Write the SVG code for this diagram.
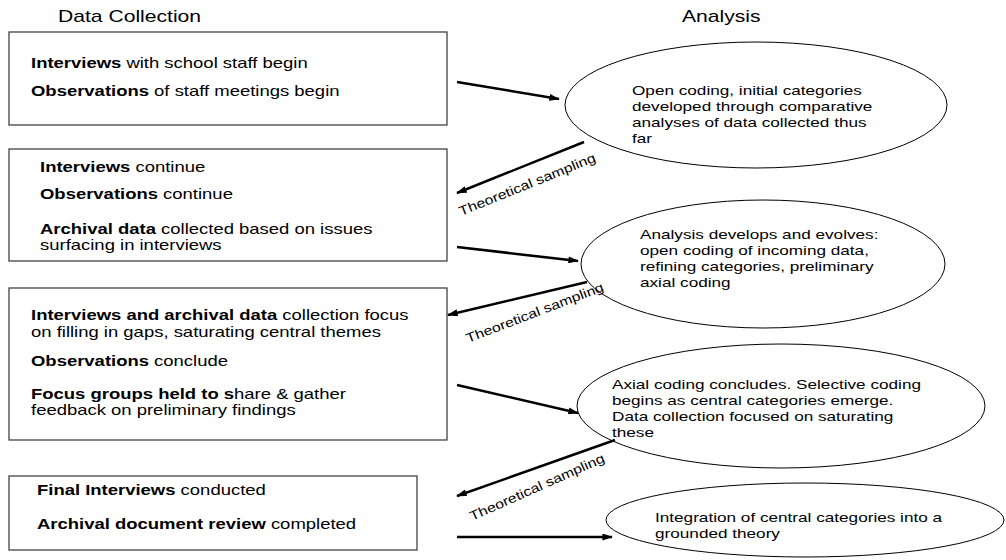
<svg xmlns="http://www.w3.org/2000/svg" width="1006" height="560" viewBox="0 0 1006 560">
<style>
text{font-family:"Liberation Sans",Arial,sans-serif;fill:#000}
.title{font-size:16px}
.bt{font-size:14px}
.et{font-size:13px}
.ts{font-size:13px}
.box{fill:#fff;stroke:#333;stroke-width:1.2}
.ell{fill:#fff;stroke:#000;stroke-width:1}
.arr{stroke:#000;stroke-width:2.5;fill:none;marker-end:url(#ah)}
.b{font-weight:bold}
</style>
<defs>
<marker id="ah" viewBox="0 0 12 8" refX="11" refY="4" markerWidth="11" markerHeight="7" orient="auto" markerUnits="userSpaceOnUse">
<path d="M0,0 L12,4 L0,8 z" fill="#000"/>
</marker>
</defs>
<rect width="1006" height="560" fill="#fff"/>
<text class="title" transform="translate(58 22) scale(1.32 1)">Data Collection</text>
<text class="title" transform="translate(682 22) scale(1.32 1)">Analysis</text>

<g id="box1">
<rect class="box" x="9" y="32" width="438" height="93"/>
<text class="bt" transform="translate(31 68) scale(1.32 1)"><tspan class="b">Interviews</tspan> with school staff begin</text>
<text class="bt" transform="translate(31 96) scale(1.32 1)"><tspan class="b">Observations</tspan> of staff meetings begin</text>
</g>
<g id="box2">
<rect class="box" x="9" y="149" width="438" height="112"/>
<text class="bt" transform="translate(40 172) scale(1.32 1)"><tspan class="b">Interviews</tspan> continue</text>
<text class="bt" transform="translate(40 199) scale(1.32 1)"><tspan class="b">Observations</tspan> continue</text>
<text class="bt" transform="translate(40 234) scale(1.32 1)"><tspan class="b">Archival data</tspan> collected based on issues</text>
<text class="bt" transform="translate(40 250) scale(1.32 1)">surfacing in interviews</text>
</g>
<g id="box3">
<rect class="box" x="9" y="288" width="438" height="152"/>
<text class="bt" transform="translate(31 320) scale(1.32 1)"><tspan class="b">Interviews and archival data</tspan> collection focus</text>
<text class="bt" transform="translate(31 337) scale(1.32 1)">on filling in gaps, saturating central themes</text>
<text class="bt" transform="translate(31 366) scale(1.32 1)"><tspan class="b">Observations</tspan> conclude</text>
<text class="bt" transform="translate(31 399) scale(1.32 1)"><tspan class="b">Focus groups held to s</tspan>hare &amp; gather</text>
<text class="bt" transform="translate(31 415) scale(1.32 1)">feedback on preliminary findings</text>
</g>
<g id="box4">
<rect class="box" x="9" y="476" width="408" height="74"/>
<text class="bt" transform="translate(37 495) scale(1.32 1)"><tspan class="b">Final Interviews</tspan> conducted</text>
<text class="bt" transform="translate(37 529) scale(1.32 1)"><tspan class="b">Archival document review</tspan> completed</text>
</g>

<g id="ell1">
<ellipse class="ell" cx="756" cy="105" rx="191" ry="63"/>
<text class="et" transform="translate(632 95) scale(1.32 1)">Open coding, initial categories</text>
<text class="et" transform="translate(632 111) scale(1.32 1)">developed through comparative</text>
<text class="et" transform="translate(632 127) scale(1.32 1)">analyses of data collected thus</text>
<text class="et" transform="translate(632 143) scale(1.32 1)">far</text>
</g>
<g id="ell2">
<ellipse class="ell" cx="763" cy="264" rx="182" ry="64"/>
<text class="et" transform="translate(640 239) scale(1.32 1)">Analysis develops and evolves:</text>
<text class="et" transform="translate(640 255) scale(1.32 1)">open coding of incoming data,</text>
<text class="et" transform="translate(640 271) scale(1.32 1)">refining categories, preliminary</text>
<text class="et" transform="translate(640 287) scale(1.32 1)">axial coding</text>
</g>
<g id="ell3">
<ellipse class="ell" cx="781" cy="406" rx="204" ry="62"/>
<text class="et" transform="translate(612 389) scale(1.32 1)">Axial coding concludes. Selective coding</text>
<text class="et" transform="translate(612 405) scale(1.32 1)">begins as central categories emerge.</text>
<text class="et" transform="translate(612 421) scale(1.32 1)">Data collection focused on saturating</text>
<text class="et" transform="translate(612 437) scale(1.32 1)">these</text>
</g>
<g id="ell4">
<ellipse class="ell" cx="805" cy="520" rx="199" ry="37"/>
<text class="et" transform="translate(655 522) scale(1.32 1)">Integration of central categories into a</text>
<text class="et" transform="translate(655 538) scale(1.32 1)">grounded theory</text>
</g>

<g id="connectors">
<line class="arr" x1="457" y1="82" x2="559" y2="99"/>
<line class="arr" x1="584" y1="142" x2="457" y2="193"/>
<line class="arr" x1="457" y1="247" x2="578" y2="261"/>
<line class="arr" x1="587" y1="282" x2="448" y2="315"/>
<line class="arr" x1="457" y1="385" x2="578" y2="413"/>
<line class="arr" x1="615" y1="440" x2="457" y2="496"/>
<line class="arr" x1="457" y1="537" x2="612" y2="537"/>
<text class="ts" transform="translate(461 216) rotate(-22) scale(1.22 1)">Theoretical sampling</text>
<text class="ts" transform="translate(468 343) rotate(-21) scale(1.22 1)">Theoretical sampling</text>
<text class="ts" transform="translate(472 521) rotate(-24) scale(1.22 1)">Theoretical sampling</text>
</g>
</svg>
